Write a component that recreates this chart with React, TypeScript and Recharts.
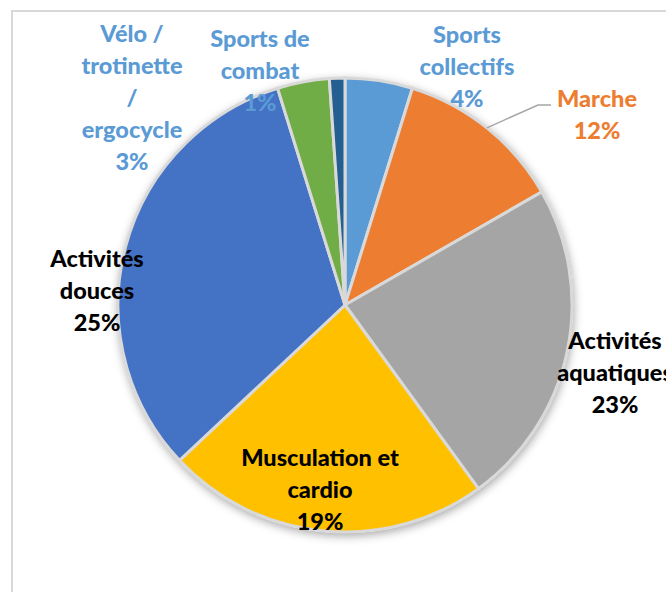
import { PieChart, Pie, Cell } from 'recharts'

// Slice sizes (clockwise from 12 o'clock)
const categories = [
  'Sports\ncollectifs',
  'Marche',
  'Activités\naquatiques',
  'Musculation et\ncardio',
  'Activités\ndouces',
  'Vélo /\ntrotinette\n/\nergocycle',
  'Sports de\ncombat',
]
const sliceValues = [4.8, 11.9, 23.3, 23.0, 32.2, 3.7, 1.1]
const percentLabels = ['4%', '12%', '23%', '19%', '25%', '3%', '1%']

const sliceColors = ['#5B9BD5', '#ED7D31', '#A5A5A5', '#FFC000', '#4472C4', '#70AD47', '#255E91']
const labelColors = ['#5B9BD5', '#ED7D31', '#000000', '#000000', '#000000', '#5B9BD5', '#5B9BD5']
// centre of each label block, as Excel placed them
const labelPos = [
  [467, 66],
  [597, 114],
  [615, 372],
  [320, 489],
  [97, 290],
  [132, 97],
  [260, 70],
]
const backdrop = [{ value: 1 }]

const LINE_H = 32

const data = categories.map((name, i) => ({
  name,
  value: sliceValues[i],
  pct: percentLabels[i],
}))

function renderLabel(props: any) {
  const i = props.index
  const [cx, cy] = labelPos[i]
  const lines = [...categories[i].split('\n'), percentLabels[i]]
  const top = cy - ((lines.length - 1) * LINE_H) / 2
  return (
    <text
      key={'lbl' + i}
      textAnchor="middle"
      dominantBaseline="central"
      fill={labelColors[i]}
      fontFamily="Lato, 'Open Sans', sans-serif"
      fontWeight={900}
      fontSize={23.5}
    >
      {lines.map((l, j) => (
        <tspan key={j} x={cx} y={top + j * LINE_H}>
          {l}
        </tspan>
      ))}
    </text>
  )
}

function renderLabelLine(props: any) {
  const i = props.index
  if (i !== 1 || !props.points) return <g key={'ll' + i} />
  const p = props.points[0]
  const [lx, ly] = labelPos[i]
  const pts = `${p.x},${p.y} ${lx - 59},${ly - 9} ${lx - 46},${ly - 9}`
  return <polyline key={'ll' + i} points={pts} fill="none" stroke="#A6A6A6" strokeWidth={1.5} />
}

export default function App() {
  return (
    <div style={{ position: 'absolute', left: 0, top: 0, width: 666, height: 592, background: '#fff', overflow: 'hidden' }}>
      <div
        style={{
          position: 'absolute',
          left: 11,
          top: 10,
          width: 720,
          height: 640,
          border: '2px solid #D9D9D9',
        }}
      />
      <div style={{ position: 'absolute', left: 0, top: 0 }}>
        <PieChart width={666} height={592} margin={{ top: 0, right: 0, bottom: 0, left: 0 }}>
          <defs>
            <filter id="pieShadow" x="-20%" y="-20%" width="140%" height="140%">
              <feDropShadow dx="1" dy="3" stdDeviation="5" floodColor="#000" floodOpacity="0.35" />
            </filter>
          </defs>
          <Pie
            data={backdrop}
            dataKey="value"
            cx={345}
            cy={305}
            outerRadius={228}
            startAngle={90}
            endAngle={-270}
            stroke="none"
            isAnimationActive={false}
          >
            <Cell fill="#ffffff" filter="url(#pieShadow)" />
          </Pie>
          <Pie
            data={data}
            dataKey="value"
            nameKey="name"
            cx={345}
            cy={305}
            outerRadius={227}
            startAngle={90}
            endAngle={-270}
            stroke="#D9D9D9"
            strokeWidth={3}
            label={renderLabel}
            labelLine={renderLabelLine}
            isAnimationActive={false}
          >
            {data.map((d, i) => (
              <Cell key={d.name} fill={sliceColors[i]} />
            ))}
          </Pie>
        </PieChart>
      </div>
    </div>
  )
}
